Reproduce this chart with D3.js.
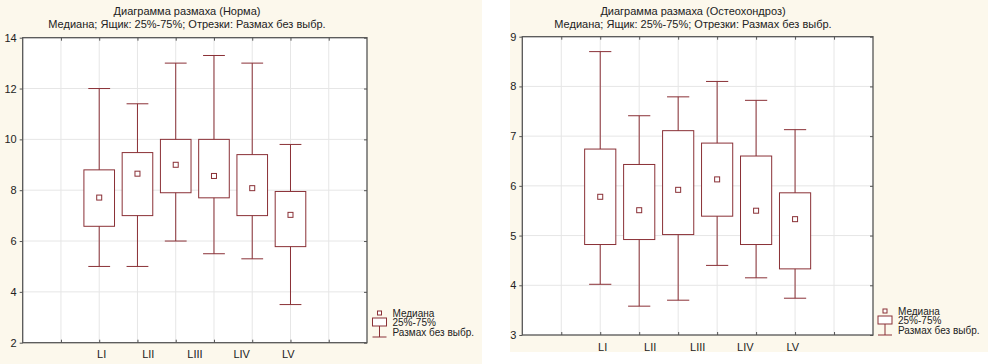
<!DOCTYPE html>
<html>
<head>
<meta charset="utf-8">
<script src="https://cdn.jsdelivr.net/npm/d3@7"></script>
<style>
  body { margin: 0; background: #fff; }
  svg { display: block; font-family: "Liberation Sans", Arial, sans-serif; }
</style>
</head>
<body>
<svg id="chart" width="988" height="364"></svg>
<script>
// labels under the axis (only five, Statistica-style)
const categories = ['LI', 'LII', 'LIII', 'LIV', 'LV'];
// slot of each box on the 0..9 x-axis
const boxSlots = [2, 3, 4, 5, 6, 7];

// Норма
const normMin = [5.0, 5.0, 6.0, 5.5, 5.3, 3.5];
const normQ1 = [6.58, 7.0, 7.9, 7.7, 7.0, 5.78];
const normMed = [7.71, 8.65, 9.0, 8.56, 8.08, 7.03];
const normQ3 = [8.8, 9.48, 10.0, 10.0, 9.4, 7.95];
const normMax = [12.0, 11.4, 13.0, 13.3, 13.0, 9.8];
const normTicks = [2, 4, 6, 8, 10, 12, 14];

// Остеохондроз
const osteoMin = [4.02, 3.58, 3.70, 4.40, 4.15, 3.74];
const osteoQ1 = [4.82, 4.92, 5.02, 5.39, 4.82, 4.33];
const osteoMed = [5.78, 5.51, 5.92, 6.13, 5.50, 5.33];
const osteoQ3 = [6.74, 6.43, 7.11, 6.86, 6.60, 5.86];
const osteoMax = [8.70, 7.41, 7.79, 8.10, 7.72, 7.13];
const osteoTicks = [3, 4, 5, 6, 7, 8, 9];

const legendLabels = ['Медиана', '25%-75%', 'Размах без выбр.'];

const boxColor = '#8a3036';
const frameColor = '#555';
const gridColor = '#e6e6e6';
const cream = '#fcf8ec';

const svg = d3.select('#chart');

function panel(opt) {
  const g = svg.append('g');
  g.append('rect')
    .attr('x', opt.bg[0]).attr('y', opt.bg[1])
    .attr('width', opt.bg[2]).attr('height', opt.bg[3])
    .attr('fill', cream);

  const x = d3.scaleLinear().domain([0, 9]).range([opt.left, opt.right]);
  const y = d3.scaleLinear().domain(opt.domain).range([opt.bottom, opt.top]);
  const xLab = d3.scalePoint().domain(categories).range([x(2.05), x(6.93)]);

  g.append('rect')
    .attr('x', opt.left).attr('y', opt.top)
    .attr('width', opt.right - opt.left).attr('height', opt.bottom - opt.top)
    .attr('fill', '#fff');

  // grid
  g.selectAll('.vgrid').data(d3.range(1, 9)).join('line')
    .attr('x1', d => x(d)).attr('x2', d => x(d))
    .attr('y1', opt.top).attr('y2', opt.bottom)
    .attr('stroke', gridColor).attr('stroke-width', 1);
  g.selectAll('.hgrid').data(opt.ticks.slice(1, -1)).join('line')
    .attr('x1', opt.left).attr('x2', opt.right)
    .attr('y1', d => y(d)).attr('y2', d => y(d))
    .attr('stroke', gridColor).attr('stroke-width', 1);

  // boxes
  const data = opt.min.map((m, i) => ({
    slot: boxSlots[i], min: m, q1: opt.q1[i], med: opt.med[i], q3: opt.q3[i], max: opt.max[i]
  }));
  const step = x(1) - x(0);
  const bw = step * 0.8, cw = step * 0.57;
  const b = g.selectAll('.box').data(data).join('g');
  b.append('line')
    .attr('x1', d => x(d.slot)).attr('x2', d => x(d.slot))
    .attr('y1', d => y(d.max)).attr('y2', d => y(d.min))
    .attr('stroke', boxColor);
  b.append('line')
    .attr('x1', d => x(d.slot) - cw / 2).attr('x2', d => x(d.slot) + cw / 2)
    .attr('y1', d => y(d.max)).attr('y2', d => y(d.max))
    .attr('stroke', boxColor);
  b.append('line')
    .attr('x1', d => x(d.slot) - cw / 2).attr('x2', d => x(d.slot) + cw / 2)
    .attr('y1', d => y(d.min)).attr('y2', d => y(d.min))
    .attr('stroke', boxColor);
  b.append('rect')
    .attr('x', d => x(d.slot) - bw / 2).attr('width', bw)
    .attr('y', d => y(d.q3)).attr('height', d => y(d.q1) - y(d.q3))
    .attr('fill', '#fff').attr('stroke', boxColor);
  b.append('rect')
    .attr('x', d => x(d.slot) - 2.5).attr('y', d => y(d.med) - 2.5)
    .attr('width', 5).attr('height', 5)
    .attr('fill', '#fff').attr('stroke', boxColor);

  // frame
  g.append('rect')
    .attr('x', opt.left).attr('y', opt.top)
    .attr('width', opt.right - opt.left).attr('height', opt.bottom - opt.top)
    .attr('fill', 'none').attr('stroke', frameColor).attr('stroke-width', 1.3);

  // axes
  g.append('g')
    .attr('transform', `translate(${opt.left},0)`)
    .call(d3.axisLeft(y).tickValues(opt.ticks).tickFormat(d3.format('d')).tickSize(3).tickPadding(3))
    .call(a => a.select('.domain').remove())
    .call(a => a.selectAll('line').attr('stroke', frameColor))
    .call(a => a.selectAll('text').attr('font-size', 11).attr('fill', '#222')
      .attr('font-family', '"Liberation Sans", Arial, sans-serif'));
  g.append('g')
    .attr('transform', `translate(${opt.right},0)`)
    .call(d3.axisLeft(y).tickValues(opt.ticks).tickSize(3).tickFormat(''))
    .call(a => a.select('.domain').remove())
    .call(a => a.selectAll('line').attr('stroke', frameColor));
  g.append('g')
    .attr('transform', `translate(0,${opt.bottom})`)
    .call(d3.axisBottom(x).tickValues(d3.range(1, 9)).tickSize(-3).tickFormat(''))
    .call(a => a.select('.domain').remove())
    .call(a => a.selectAll('line').attr('stroke', frameColor));
  g.append('g')
    .attr('transform', `translate(0,${opt.top})`)
    .call(d3.axisTop(x).tickValues(d3.range(1, 9)).tickSize(-3).tickFormat(''))
    .call(a => a.select('.domain').remove())
    .call(a => a.selectAll('line').attr('stroke', frameColor));
  g.append('g')
    .attr('transform', `translate(0,${opt.bottom})`)
    .call(d3.axisBottom(xLab).tickSize(0).tickPadding(8))
    .call(a => a.select('.domain').remove())
    .call(a => a.selectAll('text').attr('font-size', 11).attr('fill', '#222')
      .attr('font-family', '"Liberation Sans", Arial, sans-serif'));

  // titles
  const cx = opt.titleX;
  g.append('text').attr('x', cx).attr('y', 15).attr('text-anchor', 'middle')
    .attr('font-size', 11).attr('fill', '#222').text(opt.title);
  g.append('text').attr('x', cx).attr('y', 28).attr('text-anchor', 'middle')
    .attr('font-size', 11).attr('fill', '#222')
    .text('Медиана; Ящик: 25%-75%; Отрезки: Размах без выбр.');

  // legend
  const lx = opt.legend[0], ly = opt.legend[1];
  g.append('rect').attr('x', lx - 2).attr('y', ly - 2).attr('width', 4).attr('height', 4)
    .attr('fill', '#fff').attr('stroke', boxColor);
  g.append('rect').attr('x', lx - 7).attr('y', ly + 5).attr('width', 14).attr('height', 8)
    .attr('fill', '#fff').attr('stroke', boxColor);
  g.append('line').attr('x1', lx).attr('x2', lx).attr('y1', ly + 13).attr('y2', ly + 24)
    .attr('stroke', boxColor);
  g.append('line').attr('x1', lx - 7).attr('x2', lx + 7).attr('y1', ly + 24).attr('y2', ly + 24)
    .attr('stroke', boxColor);
  g.selectAll('.leg').data(legendLabels).join('text')
    .attr('x', lx + 13).attr('y', (d, i) => ly + 3.5 + i * 9.6)
    .attr('font-size', 10).attr('fill', '#222').text(d => d);
}

panel({
  bg: [0, 0, 482, 364],
  left: 22.7, right: 367, top: 37.7, bottom: 342.7,
  domain: [2, 14], ticks: normTicks,
  min: normMin, q1: normQ1, med: normMed, q3: normQ3, max: normMax,
  title: 'Диаграмма размаха (Норма)', titleX: 187,
  legend: [379.5, 313]
});

panel({
  bg: [510, 0, 478, 352],
  left: 522.3, right: 873, top: 36.7, bottom: 335,
  domain: [3, 9], ticks: osteoTicks,
  min: osteoMin, q1: osteoQ1, med: osteoMed, q3: osteoQ3, max: osteoMax,
  title: 'Диаграмма размаха (Остеохондроз)', titleX: 693,
  legend: [885, 311]
});
</script>
</body>
</html>
